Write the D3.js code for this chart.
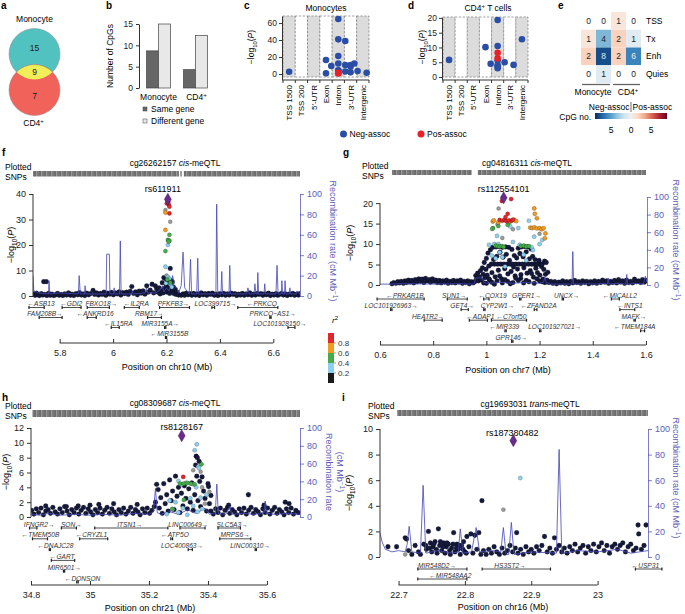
<!DOCTYPE html>
<html lang="en">
<head>
<meta charset="UTF-8">
<title>meQTL figure</title>
<style>
  body { margin: 0; background: #fff; }
  svg { display: block; font-family: "Liberation Sans", Arial, Helvetica, sans-serif; }
  .plab { font-weight: bold; font-size: 10px; }
</style>
</head>
<body>
<div id="fig"></div>
<script src="https://d3js.org/d3.v7.min.js"></script>
<script>
// ---------------- data ----------------
// a: venn
const vennLabels = ["Monocyte", "CD4+"];
const vennCounts = [15, 9, 7];          // monocyte only, shared, CD4 only

// b: bars
const cellTypes = ["Monocyte", "CD4+"];
const geneTypes = ["Same gene", "Different gene"];
const sameGene = [8.7, 4.3];
const diffGene = [15, 12.3];

// c, d: genomic region of CpGs
const regionCats = ["TSS 1500", "TSS 200", "5′-UTR", "Exon", "Intron", "3′-UTR", "Intergenic"];
const cNeg = [["TSS 1500",2.7],["Exon",16.5],["Exon",0.8],["Intron",64.7],["Intron",40.8],["Intron",38.8],
  ["Intron",21.2],["Intron",12.5],["Intron",10.6],["Intron",9.5],["Intron",4.5],["Intron",3.9],["Intron",3.0],
  ["3′-UTR",12.5],["3′-UTR",10.6],["3′-UTR",8.6],["3′-UTR",3.5],["3′-UTR",2.0],["Intergenic",1.6]];
const cPos = [["Intron",1.5],["Intron",1.0],["Intron",0.8]];
const dNeg = [["TSS 1500",5.8],["Exon",10.1],["Intron",19.3],["Intron",10.5],["Intron",5.6],["Intron",5.0],
  ["Intron",4.5],["Intron",4.0],["Intron",3.6],["Intron",3.0],["3′-UTR",4.1],["Intergenic",12.8]];
const dPos = [["Intron",8.2],["Intron",6.3]];

// e: chromatin states
const chromStates = ["TSS", "Tx", "Enh", "Quies"];
const stateCols = ["Mono pos", "Mono neg", "CD4 pos", "CD4 neg"];
const stateSign = [1, -1, 1, -1];
const stateCounts = [[0,1,2,0],[0,4,8,1],[1,2,2,0],[0,1,6,0]];
const cbTicks = [-5, 0, 5];

// r2 legend
const r2Breaks = [0.8, 0.6, 0.4, 0.2];
const r2Colors = ["#e3262a", "#f29a1f", "#45ad48", "#8ccfee", "#1a1a1a"];

// f: cg26262157, chr10
const fLead = [6.205, 37.9];
const fRed = [[6.201,36.3],[6.207,36.9],[6.209,35.7],[6.211,35.0],[6.211,32.4]];
const fOrange = [[6.196,32.7],[6.196,25.9]];
const fGreen = [[6.211,24.0],[6.205,22.0],[6.211,21.7],[6.208,21.3],[6.196,17.6],[6.203,6.5],[6.214,5.2]];
const fBlue = [[6.205,20.0],[6.196,11.5],[6.205,7.5],[6.210,6.8],[6.198,5.0],[6.215,4.5],[6.220,3.5]];
const fGrey = [[6.196,33.7],[6.214,29.1],[6.200,8.0]];
const fLow = [[5.702,.8],[5.708,.3],[5.713,1.1],[5.719,.5],[5.724,.2],[5.731,.9],[5.737,.4],[5.740,5.6],[5.750,5.6],
  [5.744,.6],[5.752,.2],[5.758,1.0],[5.765,.3],[5.771,.7],[5.778,.2],[5.785,.5],[5.792,1.0],[5.798,.3],[5.806,.6],
  [5.812,.2],[5.819,.8],[5.826,.4],[5.833,1.2],[5.840,.3],[5.846,.7],[5.853,.2],[5.861,.9],[5.868,.5],[5.874,1.3],
  [5.881,.4],[5.888,.8],[5.894,.2],[5.901,1.1],[5.908,.5],[5.915,.9],[5.925,2.2],[5.931,.6],[5.938,1.2],[5.945,.4],
  [5.952,1.0],[5.959,.6],[5.966,1.5],[5.973,.3],[5.980,1.1],[5.987,.7],[5.994,1.4],[6.001,.5],[6.008,1.2],[6.015,.8],
  [6.022,1.6],[6.029,.4],[6.036,1.3],[6.043,.9],[6.050,1.5],[6.057,.6],[6.064,1.8],[6.070,3.7],[6.077,1.0],[6.084,1.6],
  [6.091,.5],[6.098,1.9],[6.105,1.1],[6.112,2.0],[6.119,.7],[6.126,4.0],[6.132,1.5],[6.139,2.3],[6.146,4.6],[6.152,1.2],
  [6.158,4.0],[6.163,2.8],[6.168,1.5],[6.172,3.2],[6.176,.8],[6.180,2.0],[6.184,5.2],[6.187,1.2],[6.190,7.2],[6.192,3.0],
  [6.194,2.2],[6.197,6.8],[6.199,4.5],[6.201,1.5],[6.203,6.0],[6.206,3.2],[6.208,2.2],[6.210,5.6],[6.212,1.0],[6.214,10.8],
  [6.216,4.2],[6.218,6.0],[6.220,2.8],[6.222,5.5],[6.224,1.6],[6.226,3.5],[6.229,.9],[6.232,2.5],[6.236,.6],[6.240,1.4],
  [6.245,.4],[6.255,.3],[6.262,.8],[6.268,.3],[6.274,1.1],[6.281,.5],[6.288,.9],[6.295,.3],[6.302,1.0],[6.309,.4],
  [6.316,.8],[6.323,.2],[6.330,1.2],[6.337,.5],[6.344,.9],[6.351,.3],[6.358,1.0],[6.365,.6],[6.372,1.1],[6.379,.3],
  [6.386,.7],[6.393,.2],[6.400,.9],[6.407,.5],[6.414,1.0],[6.421,.3],[6.428,.8],[6.435,.4],[6.442,1.1],[6.449,.6],
  [6.456,.9],[6.463,.2],[6.470,.7],[6.477,.4],[6.484,1.0],[6.491,.3],[6.498,.8],[6.505,.5],[6.512,1.2],[6.519,.3],
  [6.526,.7],[6.533,.4],[6.540,1.0],[6.547,.6],[6.554,.9],[6.561,.3],[6.568,.8],[6.575,.5],[6.582,1.1],[6.589,.2],
  [6.596,.7],[6.603,.4],[6.610,.9],[6.617,.3],[6.624,.6],[6.631,1.0],[6.638,.4],[6.645,.8],[6.652,.2],[6.659,.7],
  [6.666,.5],[6.673,1.0],[6.680,.3],[6.687,.7],[6.694,.4],[6.699,.9]];
const fRecomb = [[5.700,20],[5.703,5],[5.72,3],[5.758,2],[5.760,15],[5.763,2],[5.80,3],[5.87,2],[5.873,20],[5.877,2],
  [5.893,2],[5.895,10],[5.898,2],[5.95,2],[5.974,2],[5.976,41],[5.986,41],[5.988,2],[6.002,2],[6.004,8],[6.006,2],
  [6.024,2],[6.027,54],[6.030,2],[6.07,2],[6.072,5],[6.075,2],[6.12,3],[6.125,8],[6.13,3],[6.16,3],[6.175,6],[6.185,10],
  [6.19,4],[6.20,8],[6.21,5],[6.215,12],[6.223,20],[6.228,10],[6.24,8],[6.245,3],[6.255,10],[6.262,43],[6.268,8],
  [6.285,2],[6.29,36],[6.294,2],[6.313,2],[6.317,37],[6.32,2],[6.35,2],[6.385,2],[6.388,90],[6.392,2],[6.404,2],
  [6.407,24],[6.41,2],[6.434,2],[6.437,30],[6.44,2],[6.50,2],[6.505,8],[6.51,2],[6.528,2],[6.531,12],[6.535,2],
  [6.54,2],[6.542,23],[6.545,2],[6.565,2],[6.568,12],[6.571,2],[6.61,2],[6.614,30],[6.618,2],[6.63,2],[6.632,15],
  [6.635,2],[6.642,2],[6.644,15],[6.647,2],[6.66,2],[6.662,8],[6.665,2],[6.687,2],[6.689,5],[6.70,2]];
const fGenes = [["←ASB13",5.685,5.742,0,5.730],["←GDI2",5.809,5.880,0,5.843],["FBXO18→",5.903,5.986,0,5.956],
  ["←IL2RA",6.042,6.098,0,6.087],["PFKFB3→",6.174,6.286,0,6.226],["LOC399715→",6.370,6.380,0,6.384],
  ["←PRKCQ",6.467,6.617,0,6.557],["FAM208B→",5.723,5.809,1,5.745],["←ANKRD16",5.903,5.937,1,5.933],
  ["RBM17→",6.129,6.181,1,6.136],["PRKCQ−AS1→",6.587,6.590,1,6.598],["←IL15RA",5.993,6.023,2,6.020],
  ["MIR3155A→",6.193,6.195,2,6.177],["LOC101928150→",6.655,6.681,2,6.625],["←MIR3155B",6.196,6.198,3,6.211]];
const fRug = [[5.70,6.247],[6.252,6.258],[6.265,6.70]];

// g: cg04816311, chr7
const gLead = [1.065, 21.3];
const gRed = [[1.058,20.5],[1.093,21.0],[1.080,17.4],[1.050,15.9],[1.060,15.7],[1.068,15.9],[1.075,15.6],
  [1.085,15.8],[1.095,15.7],[1.100,16.0],[1.072,16.6]];
const gOrange = [[1.024,15.5],[1.028,15.8],[1.105,15.9],[1.090,15.5],[1.180,18.7],[1.182,17.4],[1.190,16.3],
  [1.165,14.0],[1.172,13.9],[1.180,14.1],[1.190,13.8],[1.200,13.9],[1.208,13.6],[1.215,13.9],[1.222,12.6],
  [1.220,11.4],[1.112,15.6],[1.045,15.3]];
const gGreen = [[1.025,13.9],[1.022,13.7],[1.080,14.7],[1.035,9.6],[1.042,9.5],[1.050,9.4],[1.058,9.5],[1.065,9.3],
  [1.130,9.5],[1.140,9.6],[1.150,9.4],[1.160,9.5],[1.045,14.4]];
const gBlue = [[1.160,15.7],[1.090,14.3],[1.120,13.9],[1.210,11.0],[1.040,12.0],[1.010,9.8],[1.030,10.0],[1.045,10.0],
  [1.125,9.8],[1.170,9.2],[1.175,8.5],[1.050,8.0],[1.100,10.5],[1.200,10.0],[1.020,7.2],[1.070,4.5],[1.150,6.0],
  [1.035,6.5],[1.060,6.8],[1.140,7.4],[1.180,11.8]];
const gGrey = [[1.046,18.7],[1.042,14.8],[1.084,15.2],[1.100,13.6],[1.200,12.5],[1.060,11.5]];
const gLow = [[0.645,.3],[0.652,.6],[0.660,.4],[0.667,.8],[0.673,.5],[0.680,.9],[0.688,.4],[0.694,1.0],[0.700,.6],
  [0.707,1.2],[0.713,.7],[0.720,1.1],[0.727,.5],[0.733,1.3],[0.740,.8],[0.746,1.5],[0.752,.9],[0.758,1.4],[0.765,.6],
  [0.771,1.6],[0.777,1.0],[0.784,1.3],[0.790,.7],[0.797,1.5],[0.803,.9],[0.810,1.2],[0.816,.6],[0.823,1.1],[0.830,.5],
  [0.836,1.0],[0.843,.7],[0.850,1.2],[0.856,.4],[0.863,.9],[0.870,.6],[0.876,1.1],[0.883,.5],[0.890,1.0],[0.896,.7],
  [0.903,1.2],[0.910,.4],[0.916,.9],[0.923,.6],[0.930,1.0],[0.936,.3],[0.943,.8],[0.950,.5],
  [0.956,.8],[0.960,2.3],[0.963,1.5],[0.967,2.9],[0.970,1.0],[0.974,2.0],[0.978,3.5],[0.982,1.2],[0.985,4.2],[0.988,2.6],
  [0.992,5.5],[0.995,1.8],[0.998,3.8],[1.000,6.5],[1.003,2.4],[1.006,7.8],[1.009,4.6],[1.012,1.2],[1.015,8.6],[1.018,5.1],
  [1.021,3.0],[1.024,9.2],[1.027,6.2],[1.030,5.1],[1.033,2.0],[1.036,9.3],[1.039,7.0],[1.042,5.1],[1.045,3.6],[1.048,9.4],
  [1.051,8.0],[1.054,5.1],[1.057,1.5],[1.060,9.2],[1.063,6.8],[1.066,5.1],[1.069,4.0],[1.072,9.3],[1.075,7.5],[1.078,5.1],
  [1.081,2.7],[1.084,9.2],[1.087,6.0],[1.090,5.1],[1.093,3.3],[1.096,8.7],[1.099,5.1],[1.102,4.4],[1.105,7.2],[1.108,2.2],
  [1.111,5.1],[1.114,6.6],[1.117,3.9],[1.120,9.0],[1.123,5.1],[1.126,7.7],[1.129,1.6],[1.132,9.3],[1.135,5.1],[1.138,6.9],
  [1.141,4.2],[1.144,9.4],[1.147,5.1],[1.150,8.1],[1.153,2.9],[1.156,9.3],[1.159,5.1],[1.162,6.4],[1.165,3.5],[1.168,8.8],
  [1.171,5.1],[1.174,7.0],[1.177,1.9],[1.180,5.1],[1.183,6.2],[1.186,4.1],[1.189,5.1],[1.192,3.0],[1.195,5.1],[1.198,6.0],
  [1.201,2.4],[1.204,5.1],[1.207,4.5],[1.210,5.1],[1.213,1.4],[1.216,3.8],[1.219,5.8],[1.222,2.6],[1.225,5.5],[1.228,1.2],
  [1.231,3.1],[1.000,.4],[1.020,.7],[1.040,1.0],[1.060,.5],[1.080,.9],[1.100,.6],[1.120,1.1],[1.140,.5],[1.160,.8],
  [1.180,.4],[1.200,1.0],[1.220,.6],[0.990,.5],[1.010,1.5],[1.030,.2],[1.050,2.2],[1.070,1.3],[1.090,.3],[1.110,1.7],
  [1.130,2.5],[1.150,1.1],[1.170,2.8],[1.190,1.5],[1.210,.8],
  [1.235,.6],[1.242,.9],[1.250,.4],[1.257,.8],[1.264,.3],[1.272,.7],[1.280,.5],[1.287,1.0],[1.295,.4],[1.302,.8],
  [1.310,.3],[1.317,.9],[1.325,.5],[1.332,1.1],[1.340,.6],[1.347,.8],[1.355,.4],[1.362,1.0],[1.370,.6],[1.377,.9],
  [1.385,.3],[1.392,.8],[1.400,.5],[1.407,1.0],[1.415,.4],[1.422,.9],[1.430,.6],[1.437,1.2],[1.445,.7],[1.452,1.0],
  [1.460,.4],[1.467,.9],[1.475,.6],[1.482,1.1],[1.490,.5],[1.497,1.3],[1.505,.7],[1.512,1.0],[1.520,.4],[1.527,1.2],
  [1.535,.6],[1.542,.9],[1.550,.5],[1.557,1.4],[1.565,.8],[1.572,1.0],[1.580,.6],[1.587,1.3],[1.594,.7],[1.600,1.1]];
const gRecomb = [[0.60,1],[0.64,1],[0.70,1.5],[0.80,1],[0.90,1.5],[0.95,1],[0.955,2],[0.96,8],[0.985,8],[0.99,3],
  [1.00,2],[1.05,3],[1.10,2],[1.15,3],[1.20,2],[1.215,3],[1.22,9],[1.225,3],[1.24,1],[1.30,1],[1.322,1],[1.325,38],
  [1.328,1],[1.38,1.5],[1.41,1],[1.44,2],[1.455,1],[1.458,8],[1.461,1],[1.50,2],[1.525,1],[1.528,12],[1.531,1],
  [1.56,2],[1.59,1],[1.598,10],[1.604,3]];
const gGenes = [["←PRKAR1B",0.589,0.766,0,0.694],["SUN1→",0.853,0.928,0,0.879],["←COX19",0.990,1.010,0,1.023],
  ["GPER1→",1.125,1.130,0,1.151],["UNCX→",1.285,1.290,0,1.302],["←MICALL2",1.470,1.500,0,1.502],
  ["LOC101926963→",0.640,0.645,1,0.642],["GET4→",0.905,0.932,1,0.909],["CYP2W1→",0.990,0.995,1,1.042],
  ["←ZFAND2A",1.180,1.190,1,1.196],["←INTS1",1.502,1.558,1,1.540],["HEATR2→",0.766,0.834,2,0.781],
  ["←ADAP1",0.936,1.004,2,0.977],["←C7orf50",1.019,1.151,2,1.094],["MAFK→",1.555,1.560,2,1.555],
  ["←MIR339",1.070,1.072,3,1.068],["LOC101927021→",1.200,1.205,3,1.257],["←TMEM184A",1.580,1.595,3,1.558],
  ["GPR146→",1.095,1.100,4,1.094]];
const gRug = [[0.645,0.945],[0.968,1.600]];

// h: cg08309687, chr21
const hLead = [35.311, 10.96];
const hRed = [[35.316,5.4]];
const hOrange = [];
const hGreen = [[35.378,7.1],[35.305,4.5],[35.318,4.5],[35.330,4.6],[35.342,4.5],[35.355,4.4],[35.318,2.3],[35.279,1.1]];
const hBlue = [[35.362,9.8],[35.355,9.0],[35.367,6.8],[35.369,6.6],[35.300,4.85],[35.310,4.4],[35.325,4.6],
  [35.350,4.4],[35.260,.4],[35.280,1.0],[35.290,2.0],[35.300,.6],[35.315,1.2],[35.330,.3],[35.340,2.5],[35.350,1.5],
  [35.365,.7],[35.375,2.6],[35.380,1.1],[35.395,3.0],[35.270,2.2],[35.360,4.0]];
const hGrey = [[35.375,6.1],[35.405,3.4],[35.350,6.3],[35.380,4.0],[35.390,1.8]];
const hLow = [[34.802,.9],[34.810,.4],[34.818,1.1],[34.826,.6],[34.834,1.2],[34.842,.3],[34.850,.8],[34.858,1.0],
  [34.866,.5],[34.874,1.3],[34.882,.7],[34.890,.4],[34.898,1.1],[34.906,.6],[34.914,1.4],[34.922,.8],[34.930,.3],
  [34.938,1.0],[34.946,.6],[34.954,1.2],[34.962,.4],[34.970,.9],[34.978,1.3],[34.986,.5],[34.994,1.1],[35.002,.7],
  [35.010,.3],[35.018,1.0],[35.026,.6],[35.034,1.2],[35.042,.4],[35.050,.9],[35.058,1.3],[35.066,.5],[35.074,1.1],
  [35.082,.7],[35.090,.3],[35.098,1.0],[35.106,.6],[35.114,1.2],[35.122,.4],[35.130,.8],[35.138,1.3],[35.146,.5],
  [35.154,1.0],[35.162,.7],[35.170,.3],[35.178,1.1],[35.186,.6],[35.194,1.2],[35.202,.5],[35.210,.9],[35.218,1.4],
  [35.410,.8],[35.418,.4],[35.426,1.1],[35.434,.6],[35.442,1.2],[35.450,.3],[35.458,.9],[35.466,1.3],[35.474,.5],
  [35.482,1.0],[35.490,.7],[35.498,.3],[35.506,1.1],[35.514,.6],[35.522,1.2],[35.530,.4],[35.538,.9],[35.546,1.3],
  [35.554,.5],[35.562,1.0],[35.570,.7],[35.578,.3],[35.586,1.1],[35.594,.6],[35.602,1.2],[35.610,.4],[35.618,.9],
  [35.626,1.3],[35.634,.5],[35.642,1.0],[35.650,.7],[35.658,.3],[35.666,1.1],[35.674,.6],[35.682,1.2],[35.690,.4],
  [35.698,.9],[35.706,.6],[34.920,1.4],[35.000,1.6],[35.030,1.7],[35.080,1.8],[35.160,1.7],[34.850,1.5],[34.960,1.5],
  [35.537,3.0],[35.662,2.0],[35.675,1.8],[35.590,1.6],[35.470,1.6],
  [35.222,2.0],[35.226,4.4],[35.231,3.7],[35.235,1.2],[35.240,2.6],[35.245,.5],[35.250,4.5],[35.255,1.8],[35.260,3.0],
  [35.265,.8],[35.270,5.0],[35.275,2.2],[35.280,3.5],[35.285,1.0],[35.290,5.5],[35.295,2.8],[35.300,4.0],[35.305,.6],
  [35.310,3.2],[35.315,1.5],[35.320,4.2],[35.325,2.5],[35.330,1.1],[35.335,3.8],[35.340,2.0],[35.345,4.6],[35.350,.9],
  [35.355,3.0],[35.360,8.2],[35.362,5.5],[35.364,8.0],[35.366,2.2],[35.370,7.5],[35.372,4.8],[35.358,7.0],[35.375,1.4],
  [35.380,5.4],[35.385,3.5],[35.390,2.5],[35.395,.8],[35.400,4.5],[35.402,4.1],[35.405,1.8],[35.410,2.9]];
const hRecomb = [[34.8,3],[34.83,2],[34.86,4],[34.9,2],[34.95,3],[35.0,2],[35.05,3],[35.1,2],[35.15,4],[35.2,3],
  [35.215,6],[35.222,32],[35.228,5],[35.24,3],[35.27,6],[35.3,3],[35.33,8],[35.36,4],[35.39,10],[35.405,3],[35.425,5],
  [35.43,37],[35.435,4],[35.46,3],[35.475,12],[35.48,3],[35.52,4],[35.56,3],[35.59,5],[35.594,18],[35.598,4],
  [35.63,3],[35.67,4],[35.712,3]];
const hGenes = [["IFNGR2→",34.795,34.820,0,34.828],["SON→",34.903,34.954,0,34.937],["ITSN1→",35.016,35.264,0,35.135],
  ["LINC00649→",35.305,35.390,0,35.333],["SLC5A3→",35.434,35.510,0,35.482],["←TMEM50B",34.805,34.856,1,34.832],
  ["←CRYZL1",34.965,35.060,1,35.005],["←ATP5O",35.274,35.280,1,35.288],["MRPS6→",35.440,35.545,1,35.492],
  ["←DNAJC28",34.862,34.864,2,34.883],["LOC400863→",35.333,35.347,2,35.312],["LINC00310→",35.560,35.562,2,35.543],
  ["←GART",34.869,34.948,3,34.906],["MIR6501→",34.910,34.912,4,34.913],["←DONSON",34.955,34.960,5,34.975]];
const hRug = [[34.805,35.712]];

// i: cg19693031, chr16
const iLead = [22.873, 9.09];
const iRed = [], iOrange = [], iGreen = [];
const iBlue = [[22.8835,6.17]];
const iGrey = [[22.858,3.7],[22.710,.2]];
const iLow = [[22.684,.8],[22.697,.8],[22.710,1.5],[22.712,1.4],[22.715,.5],[22.720,.2],[22.725,.9],[22.730,.4],
  [22.733,.2],[22.738,1.0],[22.742,.6],[22.745,2.0],[22.748,1.1],[22.750,.4],[22.752,.8],[22.755,1.2],[22.758,.3],
  [22.760,2.2],[22.762,.9],[22.765,.5],[22.768,1.1],[22.770,.3],[22.772,.8],[22.775,1.0],[22.778,.2],[22.780,.7],
  [22.783,1.9],[22.785,.4],[22.788,1.0],[22.790,.6],[22.793,.2],[22.795,.9],[22.798,1.2],[22.800,.4],[22.803,1.6],
  [22.806,.8],[22.809,1.8],[22.812,.3],[22.815,1.7],[22.818,.6],[22.821,1.9],[22.824,.2],[22.8257,4.4],[22.828,.5],
  [22.832,.2],[22.836,.6],[22.840,.3],[22.844,.8],[22.848,.4],[22.852,.2],[22.856,.7],[22.860,.3],[22.864,.5],
  [22.868,.9],[22.872,.4],[22.876,.7],[22.878,1.9],[22.880,.3],[22.884,.6],[22.888,.2],[22.892,.8],[22.896,.4],
  [22.900,.6],[22.904,.3],[22.908,.8],[22.912,.5],[22.916,.9],[22.920,1.6],[22.924,.4],[22.928,.7],[22.932,.3],
  [22.935,1.5],[22.938,.6],[22.942,.9],[22.946,.4],[22.950,.7],[22.954,.3],[22.958,.8],[22.962,.5],[22.966,1.0],
  [22.970,.4],[22.974,.7],[22.978,.9],[22.982,.3],[22.986,.8],[22.990,.5],[22.994,1.0],[22.998,.4],[23.002,.8],
  [23.006,1.1],[23.010,.5],[23.014,.9],[23.018,.3],[23.022,.8],[23.026,1.0],[23.030,.6],[23.034,.9],[23.038,1.1],
  [23.042,.4],[23.046,.8],[23.050,1.0],[23.054,.5],[23.058,.7],[23.061,2.5],[23.062,1.8],[23.066,.6],[23.070,.9],
  [23.073,2.5],[22.741,.9],[22.747,.7],[22.753,1.0],[22.757,.6],[22.763,1.2],[22.767,.8],[22.773,1.1],[22.777,.5],
  [22.782,1.0],[22.787,.7],[22.792,.9],[22.797,.6],[22.802,.3]];
const iRecomb = [[22.672,19],[22.675,12],[22.68,6],[22.69,4],[22.70,5],[22.71,4],[22.713,10],[22.716,24],[22.72,4],
  [22.733,3],[22.737,56],[22.741,3],[22.76,5],[22.78,3],[22.79,4],[22.793,22],[22.797,3],[22.81,4],[22.817,23],
  [22.822,4],[22.84,5],[22.854,4],[22.858,23],[22.862,2],[22.866,2],[22.87,27],[22.874,2],[22.90,4],[22.938,3],
  [22.942,84],[22.946,3],[22.97,5],[23.0,4],[23.03,6],[23.05,3],[23.076,5]];
const iGenes = [["MIR548D2→",22.729,22.803,0,22.758],["HS3ST2→",22.826,22.929,0,22.868],
  ["←USP31",23.057,23.097,0,23.072],["←MIR548AA2",22.729,22.803,1,22.778]];
const iRug = [[22.698,23.076]];

// ---------------- drawing ----------------
const W = 685, H = 614;
const recCol = "#4747b5", lowCol = "#151a3c", leadCol = "#6a2c8a", greyCol = "#9c9c9c";

const svg = d3.select("#fig").append("svg")
  .attr("width", W).attr("height", H).attr("viewBox", `0 0 ${W} ${H}`);
const defs = svg.append("defs");

function letter(t, x, y) {
  svg.append("text").attr("class", "plab").attr("x", x).attr("y", y).text(t);
}

function cd4(t, rest) {
  t.append("tspan").text("CD4");
  t.append("tspan").attr("dy", -3).style("font-size", "70%").text("+");
  if (rest) t.append("tspan").attr("dy", 3).text(rest);
}

function logLabel(x, y, size) {
  const t = svg.append("text").attr("transform", `translate(${x},${y}) rotate(-90)`)
    .attr("text-anchor", "middle").style("font-size", size + "px");
  t.append("tspan").text("−log");
  t.append("tspan").attr("dy", size * 0.3).style("font-size", (size * 0.7) + "px").text("10");
  t.append("tspan").attr("dy", -size * 0.3).text("(");
  t.append("tspan").style("font-style", "italic").text("P");
  t.append("tspan").text(")");
}

function styleAxis(ax, size) {
  ax.attr("font-family", null).attr("font-size", size);
  ax.selectAll("line").attr("stroke", "#333");
  ax.selectAll("text").attr("fill", "#222");
}

// ---- a: venn ----
letter("a", 1, 9);
{
  const g = svg.append("g");
  const cx = 34.5, r = 25.5;
  defs.append("clipPath").attr("id", "vennClip").append("circle").attr("cx", cx).attr("cy", 54).attr("r", r);
  g.append("circle").attr("cx", cx).attr("cy", 54).attr("r", r).attr("fill", "#52c2c0").attr("stroke", "#8a8a8a").attr("stroke-width", 0.5);
  g.append("circle").attr("cx", cx).attr("cy", 90).attr("r", r).attr("fill", "#f1625b").attr("stroke", "#8a8a8a").attr("stroke-width", 0.5);
  g.append("circle").attr("cx", cx).attr("cy", 90).attr("r", r).attr("clip-path", "url(#vennClip)")
    .attr("fill", "#f2ee5a").attr("stroke", "#8a8a8a").attr("stroke-width", 0.5);
  const ty = [51, 75, 99];
  vennCounts.forEach((v, i) => g.append("text").attr("x", cx).attr("y", ty[i]).attr("text-anchor", "middle")
    .style("font-size", "8.5px").attr("fill", "#222").text(v));
  g.append("text").attr("x", cx).attr("y", 22).attr("text-anchor", "middle").style("font-size", "8.5px").text(vennLabels[0]);
  cd4(g.append("text").attr("x", cx - 1).attr("y", 126).attr("text-anchor", "middle").style("font-size", "8.5px"));
}

// ---- b: bars ----
letter("b", 106, 9);
{
  const g = svg.append("g");
  const x = d3.scaleBand().domain(cellTypes).range([141, 213]).paddingInner(0.35).paddingOuter(0.15);
  const xs = d3.scaleBand().domain(geneTypes).range([0, x.bandwidth()]);
  const y = d3.scaleLinear().domain([0, 15]).range([88, 24]);
  const vals = [sameGene, diffGene];
  const fills = ["#666666", "#e8e8e8"];
  cellTypes.forEach((ct, i) => {
    geneTypes.forEach((gt, j) => {
      g.append("rect").attr("x", x(ct) + xs(gt)).attr("y", y(vals[j][i]))
        .attr("width", xs.bandwidth()).attr("height", y(0) - y(vals[j][i]))
        .attr("fill", fills[j]).attr("stroke", "#444").attr("stroke-width", 0.7);
    });
  });
  const ax = g.append("g").attr("transform", "translate(139,0)")
    .call(d3.axisLeft(y).tickValues([0, 5, 10, 15]).tickSize(3).tickPadding(3).tickSizeOuter(0));
  styleAxis(ax, 8.5);
  ax.select(".domain").attr("stroke", "#333");
  g.append("text").attr("transform", "translate(113,56) rotate(-90)").attr("text-anchor", "middle")
    .style("font-size", "8.5px").text("Number of CpGs");
  g.append("text").attr("x", x("Monocyte") + x.bandwidth() / 2).attr("y", 100).attr("text-anchor", "middle")
    .style("font-size", "8.5px").text("Monocyte");
  cd4(g.append("text").attr("x", x("CD4+") + x.bandwidth() / 2 + 1).attr("y", 100).attr("text-anchor", "middle").style("font-size", "8.5px"));
  geneTypes.forEach((gt, j) => {
    g.append("rect").attr("x", 143).attr("y", 107 + j * 12).attr("width", 4).attr("height", 4)
      .attr("fill", fills[j]).attr("stroke", "#444").attr("stroke-width", 0.5);
    g.append("text").attr("x", 151).attr("y", 111.5 + j * 12).style("font-size", "8.5px").text(gt);
  });
}

// ---- c, d: region panels ----
function regionPanel(cfg) {
  const g = svg.append("g");
  const x = d3.scaleBand().domain(regionCats).range([cfg.x0, cfg.x1]);
  const y = d3.scaleLinear().domain(cfg.yDom).range([80, cfg.yTop]);
  regionCats.forEach((k, i) => {
    g.append("rect").attr("x", x(k)).attr("y", cfg.yTop).attr("width", x.bandwidth()).attr("height", 77 - cfg.yTop)
      .attr("fill", i % 2 === 0 ? "#dcdcdc" : "#fff").attr("stroke", "#777")
      .attr("stroke-width", 0.7).attr("stroke-dasharray", "2.2,1.6");
  });
  g.append("line").attr("x1", cfg.x0).attr("x2", cfg.x1).attr("y1", 80).attr("y2", 80).attr("stroke", "#333");
  d3.range(regionCats.length + 1).forEach(i => {
    const xx = cfg.x0 + i * x.bandwidth();
    g.append("line").attr("x1", xx).attr("x2", xx).attr("y1", 80).attr("y2", 83).attr("stroke", "#333");
  });
  const ax = g.append("g").attr("transform", `translate(${cfg.x0 - 1},0)`)
    .call(d3.axisLeft(y).tickValues(cfg.ticks).tickSize(3).tickPadding(2).tickSizeOuter(0));
  styleAxis(ax, 8.5);
  ax.select(".domain").attr("stroke", "#333");
  regionCats.forEach(k => {
    g.append("text").attr("transform", `translate(${x(k) + x.bandwidth() / 2 + 3},85) rotate(-90)`)
      .attr("text-anchor", "end").style("font-size", "8px").text(k);
  });
  // points, simple dodge inside each column
  const placed = [];
  const r = 3.3;
  const offs = [0, 3.8, -3.8, 7, -7, 1.9, -1.9];
  [[cfg.neg, "#2a4ea6"], [cfg.pos, "#e8202a"]].forEach(([pts, col]) => {
    pts.forEach(([k, v]) => {
      const cy = y(v), c0 = x(k) + x.bandwidth() / 2;
      let cx = c0;
      for (const o of offs) {
        const ok = placed.every(p => Math.hypot(p[0] - (c0 + o), p[1] - cy) > 2 * r * 0.9);
        if (ok) { cx = c0 + o; break; }
      }
      placed.push([cx, cy]);
      g.append("circle").attr("cx", cx).attr("cy", cy).attr("r", r).attr("fill", col);
    });
  });
  return g;
}

letter("c", 244, 9);
regionPanel({ x0: 283, x1: 369, yTop: 16, yDom: [-7, 68.3], ticks: [0, 20, 40, 60], neg: cNeg, pos: cPos });
svg.append("text").attr("x", 326).attr("y", 11).attr("text-anchor", "middle").style("font-size", "8.5px").text("Monocytes");
logLabel(254, 47, 8.5);

letter("d", 408, 9);
regionPanel({ x0: 443, x1: 528, yTop: 17, yDom: [-1, 20.3], ticks: [0, 5, 10, 15, 20], neg: dNeg, pos: dPos });
cd4(svg.append("text").attr("x", 488).attr("y", 11).attr("text-anchor", "middle").style("font-size", "8.5px"), " T cells");
logLabel(425, 47, 8.5);

svg.append("circle").attr("cx", 343.5).attr("cy", 134).attr("r", 3.5).attr("fill", "#2a4ea6");
svg.append("text").attr("x", 349.5).attr("y", 137).style("font-size", "8.5px").text("Neg-assoc");
svg.append("circle").attr("cx", 421).attr("cy", 134).attr("r", 3.5).attr("fill", "#e8202a");
svg.append("text").attr("x", 427).attr("y", 137).style("font-size", "8.5px").text("Pos-assoc");

// ---- e: heatmap ----
letter("e", 558, 9);
{
  const g = svg.append("g");
  const x = d3.scaleBand().domain(stateCols).range([581, 641]);
  const y = d3.scaleBand().domain(chromStates).range([12, 83]);
  const col = (v, s) => v === 0 ? "#ffffff" : d3.interpolateRdBu(0.5 - s * v / 18);
  stateCols.forEach((c, i) => {
    chromStates.forEach((st, j) => {
      const v = stateCounts[i][j];
      g.append("rect").attr("x", x(c)).attr("y", y(st)).attr("width", x.bandwidth()).attr("height", y.bandwidth())
        .attr("fill", col(v, stateSign[i]));
      g.append("text").attr("x", x(c) + x.bandwidth() / 2).attr("y", y(st) + y.bandwidth() / 2 + 3)
        .attr("text-anchor", "middle").style("font-size", "8.5px")
        .attr("fill", v >= 5 ? "#e8eef6" : "#222").text(v);
    });
  });
  chromStates.forEach(st => g.append("text").attr("x", 646).attr("y", y(st) + y.bandwidth() / 2 + 3)
    .style("font-size", "8.5px").text(st));
  g.append("line").attr("x1", 582).attr("x2", 610).attr("y1", 84.5).attr("y2", 84.5).attr("stroke", "#666").attr("stroke-width", 1.3);
  g.append("line").attr("x1", 613).attr("x2", 640).attr("y1", 84.5).attr("y2", 84.5).attr("stroke", "#666").attr("stroke-width", 1.3);
  g.append("text").attr("x", 593).attr("y", 95).attr("text-anchor", "middle").style("font-size", "8.5px").text("Monocyte");
  cd4(g.append("text").attr("x", 628).attr("y", 95).attr("text-anchor", "middle").style("font-size", "8.5px"));
  // colour bar
  const cb = d3.scaleLinear().domain([-9, 9]).range([595, 667]);
  const grad = defs.append("linearGradient").attr("id", "cbGrad");
  d3.range(11).forEach(i => grad.append("stop").attr("offset", (i * 10) + "%").attr("stop-color", d3.interpolateRdBu(1 - i / 10)));
  g.append("rect").attr("x", cb(-9)).attr("y", 113).attr("width", cb(9) - cb(-9)).attr("height", 6).attr("fill", "url(#cbGrad)");
  g.append("line").attr("x1", cb(0)).attr("x2", cb(0)).attr("y1", 102).attr("y2", 112).attr("stroke", "#333").attr("stroke-width", 0.7);
  g.append("text").attr("x", cb(0) - 1.5).attr("y", 110).attr("text-anchor", "end").style("font-size", "8.5px").text("Neg-assoc");
  g.append("text").attr("x", cb(0) + 1.5).attr("y", 110).style("font-size", "8.5px").text("Pos-assoc");
  g.append("text").attr("x", 591).attr("y", 119.5).attr("text-anchor", "end").style("font-size", "8.5px").text("CpG no.");
  cbTicks.forEach(t => g.append("text").attr("x", cb(t)).attr("y", 133).attr("text-anchor", "middle")
    .style("font-size", "8.5px").text(Math.abs(t)));
}

// ---- rug pattern ----
{
  const p = defs.append("pattern").attr("id", "rugPat").attr("patternUnits", "userSpaceOnUse").attr("width", 5).attr("height", 10);
  p.append("rect").attr("width", 5).attr("height", 10).attr("fill", "#6c6c6c");
  p.append("rect").attr("x", 1.4).attr("width", 0.8).attr("height", 10).attr("fill", "#b8b8b8");
  p.append("rect").attr("x", 3.6).attr("width", 0.5).attr("height", 10).attr("fill", "#8e8e8e");
}

// ---- locus zoom panels ----
function locus(c) {
  const x = d3.scaleLinear().domain(c.xDom).range([c.x0, c.x1]);
  const y = d3.scaleLinear().domain([0, c.yMax]).range([c.yBot, c.yTop]);
  const yr = d3.scaleLinear().domain([0, 100]).range([c.yBot, c.yTop]);
  const g = svg.append("g");
  letter(c.key, c.letter[0], c.letter[1]);

  // header
  g.append("text").attr("x", c.snpX).attr("y", c.rugY - 1).style("font-size", "8.5px").text("Plotted");
  g.append("text").attr("x", c.snpX).attr("y", c.rugY + 9).style("font-size", "8.5px").text("SNPs");
  const tt = g.append("text").attr("x", c.titleX).attr("y", c.titleY).attr("text-anchor", "middle").style("font-size", "8.5px");
  tt.append("tspan").text(c.probe + " ");
  tt.append("tspan").style("font-style", "italic").text(c.kind);
  tt.append("tspan").text("-meQTL");
  c.rug.forEach(([s, e]) => g.append("rect").attr("x", x(s)).attr("y", c.rugY).attr("width", x(e) - x(s))
    .attr("height", c.rugH).attr("fill", "url(#rugPat)"));

  // clip
  const cid = "clip" + c.key;
  defs.append("clipPath").attr("id", cid).append("rect").attr("x", c.x0).attr("y", c.yTop - 8)
    .attr("width", c.x1 - c.x0).attr("height", c.yBot - c.yTop + 11);
  const pg = g.append("g").attr("clip-path", `url(#${cid})`);
  const dot = (pts, fill, r) => pg.selectAll(null).data(pts).enter().append("circle")
    .attr("cx", d => x(d[0])).attr("cy", d => y(d[1])).attr("r", r)
    .attr("fill", fill).attr("stroke", "rgba(0,0,0,0.55)").attr("stroke-width", 0.35);
  dot(c.low, lowCol, 2.4);
  pg.append("path").datum(c.recomb).attr("fill", "none").attr("stroke", recCol).attr("stroke-width", 0.9)
    .attr("stroke-opacity", 0.9).attr("d", d3.line().x(d => x(d[0])).y(d => yr(d[1])));
  dot(c.grey, greyCol, 2);
  dot(c.blue, r2Colors[3], 2.1);
  dot(c.green, r2Colors[2], 2.1);
  dot(c.orange, r2Colors[1], 2.1);
  dot(c.red, r2Colors[0], 2.1);
  g.append("path").attr("transform", `translate(${x(c.lead[0])},${y(c.lead[1])})`)
    .attr("d", d3.symbol(d3.symbolDiamond, 42)()).attr("fill", leadCol).attr("stroke", "#3a1050").attr("stroke-width", 0.4);
  g.append("text").attr("x", x(c.lead[0]) + c.leadDx).attr("y", c.leadY).attr("text-anchor", "middle")
    .style("font-size", "9px").text(c.leadName);

  // axes
  const al = g.append("g").attr("transform", `translate(${c.x0},0)`)
    .call(d3.axisLeft(y).tickValues(c.yTicks).tickSize(4).tickPadding(3).tickSizeOuter(0));
  styleAxis(al, 9);
  al.select(".domain").remove();
  al.append("line").attr("y1", y(0)).attr("y2", y(c.yTicks[c.yTicks.length - 1])).attr("stroke", "#333");
  const ar = g.append("g").attr("transform", `translate(${c.x1},0)`)
    .call(d3.axisRight(yr).tickValues([0, 20, 40, 60, 80, 100]).tickSize(4).tickPadding(3).tickSizeOuter(0));
  ar.attr("font-family", null).attr("font-size", 9);
  ar.select(".domain").attr("stroke", recCol).attr("stroke-opacity", 0.7);
  ar.selectAll("line").attr("stroke", recCol).attr("stroke-opacity", 0.7);
  ar.selectAll("text").attr("fill", "#5d5db8");
  const ab = g.append("g").attr("transform", `translate(0,${c.axisY})`)
    .call(d3.axisBottom(x).tickValues(c.xTicks).tickSizeInner(-4).tickSizeOuter(0).tickPadding(6.5).tickFormat(d3.format("~g")));
  styleAxis(ab, 9);
  ab.select(".domain").remove();
  ab.append("line").attr("x1", x(c.xTicks[0])).attr("x2", x(c.xTicks[c.xTicks.length - 1])).attr("stroke", "#333");
  g.append("text").attr("x", c.xlab[0]).attr("y", c.xlab[1]).attr("text-anchor", "middle").style("font-size", "9px")
    .text(`Position on ${c.chr} (Mb)`);
  logLabel(c.ylab[0], c.ylab[1], 9);

  // recombination label
  const lines = c.recLines;
  lines.forEach((ln, k) => {
    const t = g.append("text").attr("transform", `translate(${c.rlab[0] - (lines.length - 1 - k) * 11.5},${c.rlab[1]}) rotate(90)`)
      .attr("text-anchor", "middle").style("font-size", "9px").attr("fill", "#5d5db8");
    if (ln.endsWith("Mb")) {
      t.append("tspan").text(ln);
      t.append("tspan").attr("dy", -3).style("font-size", "6.5px").text("−1");
      t.append("tspan").attr("dy", 3).text(")");
    } else t.text(ln);
  });

  // genes
  c.genes.forEach(([lbl, s, e, row, lp]) => {
    const yy = c.geneY0 + row * c.geneDy;
    const x1 = x(s), x2 = Math.max(x(e), x(s) + 1.2);
    g.append("line").attr("x1", x1).attr("x2", x2).attr("y1", yy + 1.5).attr("y2", yy + 1.5)
      .attr("stroke", "#222").attr("stroke-width", 0.8);
    [x1, x2].forEach(xx => g.append("rect").attr("x", xx - 0.6).attr("y", yy).attr("width", 1.2).attr("height", 3).attr("fill", "#222"));
    g.append("text").attr("x", x(lp)).attr("y", yy).attr("text-anchor", "middle")
      .style("font-size", "6.6px").style("font-style", "italic").attr("fill", "#333").text(lbl);
  });
}

locus({ key: "f", letter: [2, 156], x0: 33, x1: 300, yTop: 194, yBot: 296, yMax: 40, yTicks: [0, 10, 20, 30, 40],
  xDom: [5.70, 6.70], xTicks: [5.8, 6.0, 6.2, 6.4, 6.6], axisY: 343, chr: "chr10", xlab: [167, 370], ylab: [14, 245],
  rlab: [330, 241], recLines: ["Recombination rate (cM Mb"],
  snpX: 5, rugY: 171, rugH: 5.5, titleX: 175, titleY: 166, probe: "cg26262157", kind: "cis",
  leadName: "rs611911", leadDx: -5, leadY: 192, lead: fLead,
  low: fLow, grey: fGrey, blue: fBlue, green: fGreen, orange: fOrange, red: fRed, recomb: fRecomb,
  genes: fGenes, geneY0: 306, geneDy: 10, rug: fRug });

locus({ key: "g", letter: [343, 156], x0: 380, x1: 647, yTop: 197, yBot: 285, yMax: 21.5, yTicks: [0, 5, 10, 15, 20],
  xDom: [0.6, 1.604], xTicks: [0.6, 0.8, 1.0, 1.2, 1.4, 1.6], axisY: 345, chr: "chr7", xlab: [508, 373], ylab: [353, 243],
  rlab: [673, 240], recLines: ["Recombination rate (cM Mb"],
  snpX: 362, rugY: 170, rugH: 5, titleX: 527, titleY: 166, probe: "cg04816311", kind: "cis",
  leadName: "rs112554101", leadDx: 0, leadY: 192, lead: gLead,
  low: gLow, grey: gGrey, blue: gBlue, green: gGreen, orange: gOrange, red: gRed, recomb: gRecomb,
  genes: gGenes, geneY0: 297.5, geneDy: 10.6, rug: gRug });

locus({ key: "h", letter: [2, 401], x0: 31, x1: 300, yTop: 428, yBot: 517, yMax: 12, yTicks: [0, 2, 4, 6, 8, 10, 12],
  xDom: [34.8, 35.712], xTicks: [34.8, 35.0, 35.2, 35.4, 35.6], axisY: 585, chr: "chr21", xlab: [150, 611], ylab: [9, 472],
  rlab: [337, 472], recLines: ["Recombination rate", "(cM Mb"],
  snpX: 5, rugY: 410, rugH: 7, titleX: 175, titleY: 406, probe: "cg08309687", kind: "cis",
  leadName: "rs8128167", leadDx: 0, leadY: 430, lead: hLead,
  low: hLow, grey: hGrey, blue: hBlue, green: hGreen, orange: hOrange, red: hRed, recomb: hRecomb,
  genes: hGenes, geneY0: 526.5, geneDy: 10.8, rug: hRug });

locus({ key: "i", letter: [342, 401], x0: 380, x1: 648, yTop: 429, yBot: 557, yMax: 10, yTicks: [0, 2, 4, 6, 8, 10],
  xDom: [22.672, 23.076], xTicks: [22.7, 22.8, 22.9, 23.0], axisY: 585, chr: "chr16", xlab: [503, 610], ylab: [352, 493],
  rlab: [673, 478], recLines: ["Recombination rate (cM Mb"],
  snpX: 368, rugY: 410, rugH: 6, titleX: 530, titleY: 407, probe: "cg19693031", kind: "trans",
  leadName: "rs187380482", leadDx: -1, leadY: 436, lead: iLead,
  low: iLow, grey: iGrey, blue: iBlue, green: iGreen, orange: iOrange, red: iRed, recomb: iRecomb,
  genes: iGenes, geneY0: 567.5, geneDy: 10, rug: iRug });

// ---- r2 legend ----
{
  const g = svg.append("g");
  const ly = d3.scaleLinear().domain([1, 0]).range([333, 383]);
  const edges = [1, 0.8, 0.6, 0.4, 0.2, 0];
  r2Colors.forEach((col, i) => g.append("rect").attr("x", 328).attr("y", ly(edges[i])).attr("width", 6)
    .attr("height", ly(edges[i + 1]) - ly(edges[i])).attr("fill", col));
  r2Breaks.forEach(b => {
    g.append("line").attr("x1", 334).attr("x2", 336).attr("y1", ly(b)).attr("y2", ly(b)).attr("stroke", "#666").attr("stroke-width", 0.6);
    g.append("text").attr("x", 338).attr("y", ly(b) + 3).style("font-size", "8px").attr("fill", "#333").text(b);
  });
  const t = g.append("text").attr("x", 332).attr("y", 323).style("font-size", "8px");
  t.append("tspan").style("font-style", "italic").text("r");
  t.append("tspan").attr("dy", -3).style("font-size", "6px").text("2");
}
</script>
</body>
</html>
